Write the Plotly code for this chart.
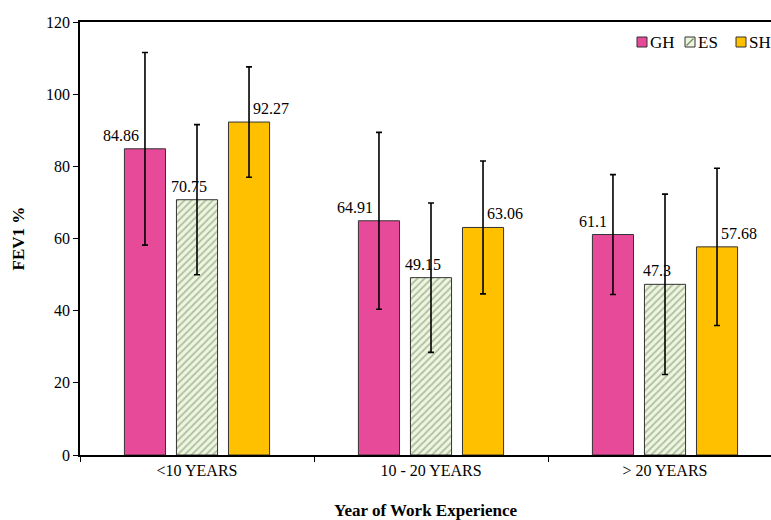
import plotly.graph_objects as go

categories = ["<10 YEARS", "10 - 20 YEARS", "> 20 YEARS"]
series_names = ["GH", "ES", "SH"]
gh_values = [84.86, 64.91, 61.1]
es_values = [70.75, 49.15, 47.3]
sh_values = [92.27, 63.06, 57.68]
gh_err = [26.7, 24.5, 16.6]
es_err = [20.8, 20.7, 25.0]
sh_err = [15.3, 18.4, 21.8]
label_text = {
    "GH": ["84.86", "64.91", "61.1"],
    "ES": ["70.75", "49.15", "47.3"],
    "SH": ["92.27", "63.06", "57.68"],
}
x_title = "Year of Work Experience"
y_title = "FEV1 %"

FONT = "Liberation Serif, Times New Roman, serif"
colors = {"GH": "#E84A9A", "ES": "#EEF5E1", "SH": "#FFC000"}
values = {"GH": gh_values, "ES": es_values, "SH": sh_values}
errs = {"GH": gh_err, "ES": es_err, "SH": sh_err}

W, H = 771, 520
ML, MR, MT, MB = 80, 0, 22, 65
PW, PH = W - ML - MR, H - MT - MB


def px_x(px):
    return (px - ML) / PW


def px_y(py):
    return (H - MB - py) / PH


fig = go.Figure()
for name in series_names:
    marker = dict(color=colors[name], line=dict(color="#333333", width=1))
    if name == "ES":
        marker["pattern"] = dict(shape="/", fgcolor="#6F8A5C", bgcolor="#EEF5E1",
                                 size=5, solidity=0.35, fillmode="overlay")
    fig.add_trace(go.Bar(
        name=name, x=categories, y=values[name], marker=marker, showlegend=False,
        error_y=dict(type="data", array=errs[name], color="black",
                     thickness=1.6, width=3),
    ))

# data labels
step = 0.222
for j, name in enumerate(series_names):
    for i, v in enumerate(values[name]):
        xpos = i + (j - 1) * step
        if name == "GH":
            xa, xs = "right", -4
        elif name == "ES":
            xa, xs = "center", -8
        else:
            xa, xs = "left", 2
        fig.add_annotation(x=xpos, y=v, xref="x", yref="y", text=label_text[name][i],
                           showarrow=False, xanchor=xa, yanchor="bottom",
                           xshift=xs, yshift=3,
                           font=dict(family=FONT, size=16, color="black"))

# custom compact legend (top right)
legend_items = [("GH", 637), ("ES", 685), ("SH", 736)]
sq = 10
ly_top, ly_bot = 37, 47
for name, x0 in legend_items:
    fig.add_shape(type="rect", xref="paper", yref="paper",
                  x0=px_x(x0), x1=px_x(x0 + sq), y0=px_y(ly_bot), y1=px_y(ly_top),
                  fillcolor=colors[name], line=dict(color="#333333", width=1))
    if name == "ES":
        fig.add_shape(type="line", xref="paper", yref="paper",
                      x0=px_x(x0 + 1.5), x1=px_x(x0 + sq - 1.5),
                      y0=px_y(ly_bot - 1.5), y1=px_y(ly_top + 1.5),
                      line=dict(color="#6F8A5C", width=1.2))
    fig.add_annotation(x=px_x(x0 + sq + 1), y=px_y(42.5), xref="paper", yref="paper",
                       text=name, showarrow=False, xanchor="left", yanchor="middle",
                       font=dict(family=FONT, size=17, color="black"))

# axis titles
fig.add_annotation(x=0.5, y=0, xref="paper", yref="paper", text="<b>" + x_title + "</b>",
                   showarrow=False, xanchor="center", yanchor="middle", yshift=-55,
                   font=dict(family=FONT, size=17, color="black"))
fig.add_annotation(x=0, y=0.5, xref="paper", yref="paper", text="<b>" + y_title + "</b>",
                   showarrow=False, xanchor="center", yanchor="middle", xshift=-62,
                   textangle=-90, font=dict(family=FONT, size=17, color="black"))

fig.update_layout(
    width=W, height=H,
    margin=dict(l=ML, r=MR, t=MT, b=MB, autoexpand=False),
    paper_bgcolor="white", plot_bgcolor="white",
    barmode="group", bargap=0.333, bargroupgap=0.21,
    font=dict(family=FONT, size=16, color="black"),
    showlegend=False,
    xaxis=dict(
        range=[-0.5, 2.453], showline=True, linecolor="black", linewidth=1.5,
        mirror=True, ticks="outside", tickson="boundaries", ticklen=5,
        tickcolor="black", showgrid=False, automargin=False,
        tickfont=dict(family=FONT, size=16),
    ),
    yaxis=dict(
        range=[0, 120], dtick=20, showline=True, linecolor="black", linewidth=1.5,
        ticks="outside", ticklen=5, tickcolor="black", showgrid=False,
        zeroline=False, automargin=False, tickfont=dict(family=FONT, size=16),
    ),
)

fig.write_html("out.html", config={"displayModeBar": False},
               post_script="document.body.style.margin='0';")
